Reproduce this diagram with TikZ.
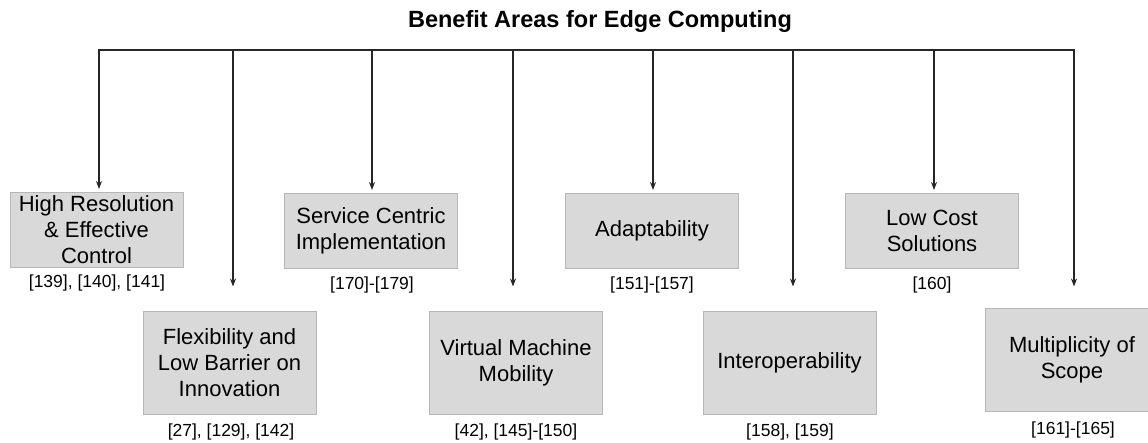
\documentclass[tikz,border=0pt]{standalone}
\usepackage{fontspec}
\setmainfont{Liberation Sans}
\usetikzlibrary{arrows.meta}
\definecolor{boxfill}{HTML}{D9D9D9}
\definecolor{boxline}{HTML}{B7B7B7}
\tikzset{
  area/.style={draw=boxline, line width=1pt, fill=boxfill, minimum width=173pt,
    align=center, inner sep=0pt, font=\fontsize{22}{26}\selectfont},
  toprow/.style={area, minimum height=75pt},
  lowrow/.style={area, minimum height=102pt},
  refs/.style={font=\fontsize{17.5}{20}\selectfont, inner sep=0pt},
  branch/.style={line width=1.3pt, draw=black!85, -{Stealth[length=8pt,width=6pt]}},
  upper/.style={branch, shorten >=3pt},
  lower/.style={branch, shorten >=25pt},
  trunk/.style={line width=1.3pt, draw=black!85, line cap=rect},
}
\begin{document}
\begin{tikzpicture}[x=1pt,y=-1pt]
\useasboundingbox (0,0) rectangle (1148,443);

% heading
\node[font=\bfseries\fontsize{23.5}{28}\selectfont, inner sep=0pt] (title) at (600,21) {Benefit Areas for Edge Computing};

% benefit boxes, upper row
\node[toprow] (hires) at (96.5,230) {High Resolution\\ \& Effective\\ Control};
\node[toprow] (svc)   at (371,231)  {Service Centric\\ Implementation};
\node[toprow] (adapt) at (652,231)  {Adaptability};
\node[toprow] (cost)  at (932,231)  {Low Cost\\ Solutions};

% benefit boxes, lower row
\node[lowrow] (flex)  at (229.5,363) {Flexibility and\\ Low Barrier on\\ Innovation};
\node[lowrow] (vm)    at (516,363)   {Virtual Machine\\ Mobility};
\node[lowrow] (inter) at (789.5,363) {Interoperability};
\node[lowrow] (multi) at (1072,360)  {Multiplicity of\\ Scope};

% references
\node[refs] (r1) at (97,283)  {[139], [140], [141]};
\node[refs] (r2) at (372,285) {[170]-[179]};
\node[refs] (r3) at (652,285) {[151]-[157]};
\node[refs] (r4) at (932,285) {[160]};
\node[refs] (r5) at (231,432) {[27], [129], [142]};
\node[refs] (r6) at (516,432) {[42], [145]-[150]};
\node[refs] (r7) at (790,432) {[158], [159]};
\node[refs] (r8) at (1073,430) {[161]-[165]};

% distribution bar
\coordinate (b1) at (99,50);
\coordinate (b2) at (233,50);
\coordinate (b3) at (372,50);
\coordinate (b4) at (513,50);
\coordinate (b5) at (653,50);
\coordinate (b6) at (793,50);
\coordinate (b7) at (934,50);
\coordinate (b8) at (1074,50);
\draw[trunk] (b1) -- (b8);

% branches to the upper row
\draw[upper] (b1) -- (b1 |- hires.north);
\draw[upper] (b3) -- (b3 |- svc.north);
\draw[upper] (b5) -- (b5 |- adapt.north);
\draw[upper] (b7) -- (b7 |- cost.north);

% branches to the lower row
\draw[lower] (b2) -- (b2 |- flex.north);
\draw[lower] (b4) -- (b4 |- vm.north);
\draw[lower] (b6) -- (b6 |- inter.north);
\draw[lower, shorten >=22pt] (b8) -- (b8 |- multi.north);
\end{tikzpicture}
\end{document}
